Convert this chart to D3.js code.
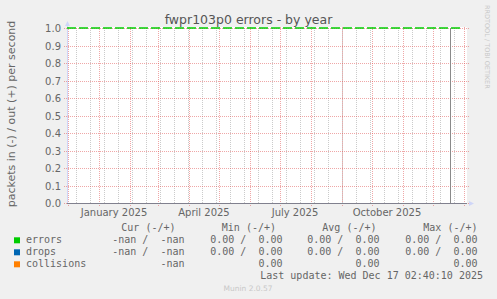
<!DOCTYPE html>
<html><head><meta charset="utf-8">
<script src="https://cdn.jsdelivr.net/npm/d3@7"></script>
<style>
html,body{margin:0;padding:0;background:#f0f0f0;}
svg{display:block;}
</style></head>
<body>
<svg id="chart" width="497" height="299"></svg>
<script>
// ---- data ----
const title = "fwpr103p0 errors - by year";
const yAxisLabel = "packets in (-) / out (+) per second";
const yTicks = [0.0, 0.1, 0.2, 0.3, 0.4, 0.5, 0.6, 0.7, 0.8, 0.9, 1.0];
const xLabelTexts = ["January 2025", "April 2025", "July 2025", "October 2025"];
const xLabelDates = ["2025-01-16", "2025-04-16", "2025-07-16", "2025-10-16"];
const timeStart = "2024-11-30";
const timeEnd = "2026-01-04";
const nowTime = "2025-12-17T02:40:10";
const warningLevel = 1.0;
const sampleDates = ["2024-11-30","2025-01-01","2025-03-01","2025-05-01","2025-07-01","2025-09-01","2025-11-01","2026-01-04"];
const errorsValues =     [0, 0, 0, 0, 0, 0, 0, 0];
const dropsValues =      [0, 0, 0, 0, 0, 0, 0, 0];
const collisionsValues = [0, 0, 0, 0, 0, 0, 0, 0];
const seriesNames = ["errors", "drops", "collisions"];
const seriesColors = ["#00cc00", "#0066b3", "#ff8000"];
const headers = ["Cur (-/+)", "Min (-/+)", "Avg (-/+)", "Max (-/+)"];
const curCol = ["-nan /  -nan", "-nan /  -nan", "-nan"];
const minCol = ["0.00 /  0.00", "0.00 /  0.00", "0.00"];
const avgCol = ["0.00 /  0.00", "0.00 /  0.00", "0.00"];
const maxCol = ["0.00 /  0.00", "0.00 /  0.00", "0.00"];
const lastUpdate = "Last update: Wed Dec 17 02:40:10 2025";
const version = "Munin 2.0.57";
const watermark = "RRDTOOL / TOBI OETIKER";

// ---- drawing ----
const svg = d3.select("#chart");
const sans = "'DejaVu Sans', sans-serif";
const mono = "'DejaVu Sans Mono', monospace";
const textCol = "#666";
const L = 67, R = 467, T = 28, B = 203;
const parse = s => new Date(s + (s.length === 10 ? "T00:00:00Z" : "Z"));

const x = d3.scaleUtc().domain([parse(timeStart), parse(timeEnd)]).range([L, R]);
const y = d3.scaleLinear().domain([0, 1]).range([B, T]);
const px = v => Math.round(v) + 0.5;

svg.append("rect").attr("width", 497).attr("height", 299).attr("fill", "#f0f0f0");
svg.append("rect").attr("x", L).attr("y", T - 1).attr("width", R - L).attr("height", B - T + 1).attr("fill", "#ffffff");

const g = svg.append("g");
// minor vertical grid (every other Monday)
const mondays = d3.utcMonday.range(x.domain()[0], x.domain()[1]).filter((d, i) => i % 2 === 1);
g.selectAll("line.minor").data(mondays).join("line")
  .attr("x1", d => px(x(d))).attr("x2", d => px(x(d)))
  .attr("y1", T).attr("y2", B)
  .attr("stroke", "rgba(140,140,140,0.45)").attr("stroke-dasharray", "1,1");
// major vertical grid (month starts)
const months = d3.utcMonth.range(x.domain()[0], x.domain()[1]);
g.selectAll("line.major").data(months).join("line")
  .attr("x1", d => px(x(d))).attr("x2", d => px(x(d)))
  .attr("y1", T - 1).attr("y2", B + 3)
  .attr("stroke", "rgba(224,80,80,0.5)").attr("stroke-dasharray", "1,1");
// horizontal grid
g.selectAll("line.hgrid").data(yTicks).join("line")
  .attr("x1", L - 3).attr("x2", R + 2)
  .attr("y1", d => px(y(d))).attr("y2", d => px(y(d)))
  .attr("stroke", "rgba(224,80,80,0.5)").attr("stroke-dasharray", "1,1");

// y tick labels
svg.selectAll("text.ytick").data(yTicks).join("text")
  .attr("x", 61).attr("y", d => Math.round(y(d)) + 4)
  .attr("text-anchor", "end").attr("font-family", sans).attr("font-size", "10px")
  .attr("fill", textCol).text(d => d.toFixed(1));
// x labels
svg.selectAll("text.xtick").data(xLabelDates).join("text")
  .attr("x", d => x(parse(d))).attr("y", 215.5)
  .attr("text-anchor", "middle").attr("font-family", sans).attr("font-size", "10px")
  .attr("fill", textCol).text((d, i) => xLabelTexts[i]);

// axes
svg.append("line").attr("x1", L + 0.5).attr("x2", L + 0.5).attr("y1", B).attr("y2", T - 4)
  .attr("stroke", "#cfd6f8");
svg.append("path").attr("d", `M${L - 2},${T - 2}L${L + 3},${T - 2}L${L + 0.5},${T - 7}Z`).attr("fill", "#cfd6f8");
svg.append("path").attr("d", `M${R + 2},${B - 2}L${R + 2},${B + 3}L${R + 7},${B + 0.5}Z`).attr("fill", "#cfd6f8");

// series lines (all zero)
const allSeries = [errorsValues, dropsValues, collisionsValues];
const line = d3.line().x((d, i) => x(parse(sampleDates[i]))).y(d => px(y(d)));
svg.append("g").selectAll("path").data(allSeries).join("path")
  .attr("d", d => line(d)).attr("fill", "none")
  .attr("stroke", "#80808e").attr("stroke-width", 1);

// warning level dashed line
svg.append("line").attr("x1", L).attr("x2", R - 4)
  .attr("y1", y(warningLevel)).attr("y2", y(warningLevel))
  .attr("stroke", "#00cc00").attr("stroke-width", 1.5).attr("stroke-dasharray", "9,3");

// now line
svg.append("line").attr("x1", Math.ceil(x(parse(nowTime))) + 0.5).attr("x2", Math.ceil(x(parse(nowTime))) + 0.5)
  .attr("y1", T).attr("y2", B).attr("stroke", "#8a8a8a").attr("stroke-width", 1);

// title
svg.append("text").attr("x", 248.5).attr("y", 24).attr("text-anchor", "middle")
  .attr("font-family", sans).attr("font-size", "12.5px").attr("fill", "#555").text(title);
// y axis label
svg.append("text").attr("transform", "translate(15,114) rotate(-90)")
  .attr("text-anchor", "middle").attr("font-family", sans).attr("font-size", "11px")
  .attr("fill", textCol).text(yAxisLabel);
// watermark
svg.append("text").attr("transform", "translate(485,5) rotate(90)")
  .attr("font-family", sans).attr("font-size", "6.5px").attr("fill", "#c8c8c8").text(watermark);

// legend
const rowsY = [243.3, 255.3, 267.3];
svg.selectAll("rect.sw").data(seriesColors).join("rect")
  .attr("x", 14).attr("y", (d, i) => rowsY[i] - 6).attr("width", 6).attr("height", 6).attr("fill", d => d);
svg.selectAll("text.sn").data(seriesNames).join("text")
  .attr("x", 26).attr("y", (d, i) => rowsY[i]).attr("font-family", mono).attr("font-size", "10px")
  .attr("fill", textCol).text(d => d);
const hdrEnds = [175.5, 276, 376.5, 477.5];
svg.selectAll("text.hdr").data(headers).join("text")
  .attr("x", (d, i) => hdrEnds[i]).attr("y", 231).attr("text-anchor", "end")
  .attr("font-family", mono).attr("font-size", "10px").attr("fill", textCol)
  .style("white-space", "pre").text(d => d);
const cols = [curCol, minCol, avgCol, maxCol];
const colEnds = [184.5, 282.5, 379.5, 477.5];
cols.forEach((col, ci) => {
  svg.append("g").selectAll("text").data(col).join("text")
    .attr("x", colEnds[ci]).attr("y", (d, i) => rowsY[i]).attr("text-anchor", "end")
    .attr("font-family", mono).attr("font-size", "10px").attr("fill", textCol)
    .style("white-space", "pre").text(d => d);
});
svg.append("text").attr("x", 483).attr("y", 279).attr("text-anchor", "end")
  .attr("font-family", mono).attr("font-size", "10px").attr("fill", textCol).text(lastUpdate);
svg.append("text").attr("x", 248).attr("y", 291).attr("text-anchor", "middle")
  .attr("font-family", sans).attr("font-size", "7.5px").attr("fill", "#c8c8c8").text(version);
</script>
</body></html>
